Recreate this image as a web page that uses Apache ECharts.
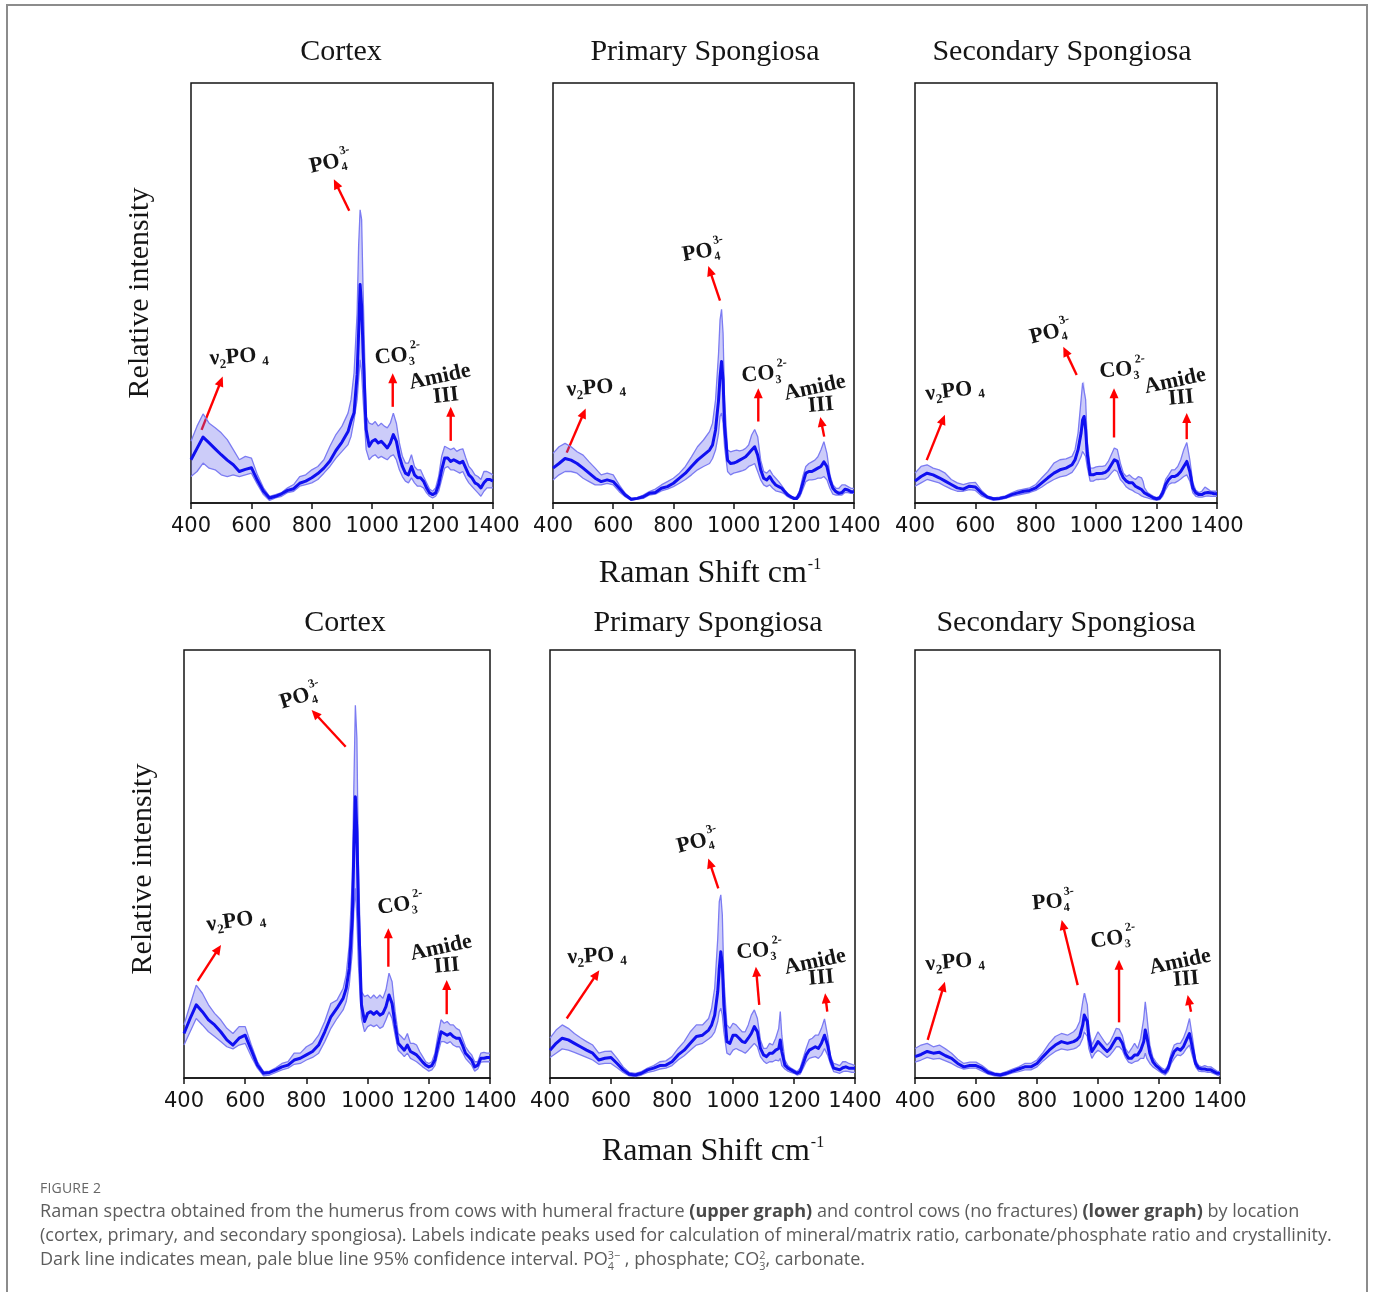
<!DOCTYPE html>
<html>
<head>
<meta charset="utf-8">
<script src="https://cdn.jsdelivr.net/npm/echarts@6/dist/echarts.min.js"></script>
<style>
html,body{margin:0;padding:0;background:#fff;}
#wrap{position:relative;width:1373px;height:1292px;overflow:hidden;background:#fff;}
#chart{position:absolute;left:0;top:0;width:1373px;height:1292px;}
#frame{position:absolute;left:6px;top:4px;width:1362px;height:1310px;border:2px solid #8c8c8c;border-bottom:none;box-sizing:border-box;}
#cap{position:absolute;left:40px;top:1177px;font-family:'Open Sans',sans-serif;color:#5c5c5c;white-space:nowrap;}
#cap .fig{font-size:14px;line-height:21px;color:#666;letter-spacing:0.2px;}
#lines{font-size:16.5px;}
#lines div{line-height:24px;height:24px;}
#lines b{font-weight:700;color:#4a4a4a;}
.ss{display:inline-block;font-size:0.6em;line-height:1.0;vertical-align:-0.45em;text-align:left;}
</style>
</head>
<body>
<div id="wrap">
  <div id="chart"></div>
  <div id="frame"></div>
  <div id="cap">
    <div class="fig">FIGURE 2</div>
    <div id="lines">
      <div><span>Raman spectra obtained from the humerus from cows with humeral fracture <b>(upper graph)</b> and control cows (no fractures) <b>(lower graph)</b> by location</span></div>
      <div><span id="l2">(cortex, primary, and secondary spongiosa). Labels indicate peaks used for calculation of mineral/matrix ratio, carbonate/phosphate ratio and crystallinity.</span></div>
      <div><span>Dark line indicates mean, pale blue line 95% confidence interval. PO<span class="ss">3−<br>4</span> , phosphate; CO<span class="ss">2<br>3</span>, carbonate.</span></div>
    </div>
  </div>
</div>
<script>
// ---------------- DATA ----------------
const X_SHIFT = [400,420,440,460,480,500,520,540,560,580,600,620,640,660,680,700,720,740,760,780,800,820,840,860,880,900,
  920,930,940,950,955,960,965,970,980,990,1000,
  1010,1020,1030,1040,1050,1060,1070,1080,1090,1100,1110,1120,1130,1140,1150,
  1155,
  1160,1170,1180,1190,1200,1210,1220,1230,1240,1250,1260,1270,1280,1290,1300,1310,1320,1330,1340,1350,1360,1370,1380,1390,1400];

const X_TICKS = [400,600,800,1000,1200,1400];

// Upper graph (humeral fracture) - Cortex
const FRACTURE_CORTEX_MEAN = [10.3,13.0,15.7,14.3,12.9,11.5,10.2,9.1,7.5,8.0,8.4,5.4,2.8,1.2,1.6,2.2,3.0,3.4,4.7,5.2,6.0,7.0,8.3,10.0,12.5,14.5,
  17.0,19.5,21.5,30.5,40.5,52.0,46.8,35.7,17.5,13.5,14.7,
  15.1,14.3,14.7,13.9,13.1,14.3,16.3,14.7,11.1,8.7,7.1,6.7,8.7,6.7,6.0,
  6.0,
  6.0,5.2,3.6,2.4,2.0,2.4,4.4,7.9,10.7,10.7,9.9,10.3,9.9,9.5,9.9,8.3,6.7,6.0,4.8,4.4,3.6,4.8,5.6,5.6,5.2];
const FRACTURE_CORTEX_HI = [14.7,18.3,21.2,19.0,17.9,16.7,15.1,12.7,10.3,11.1,10.7,6.7,3.6,1.6,2.0,2.5,3.6,4.4,6.3,6.7,7.9,8.7,10.3,13.5,16.3,18.3,
  21.4,24.6,31.0,45.2,61.1,69.8,67.5,50.0,20.6,19.0,18.7,
  19.4,18.3,19.0,18.3,17.9,19.0,21.4,19.0,14.3,11.1,9.5,9.5,11.5,8.7,7.9,
  7.9,
  7.9,6.3,4.8,3.3,2.8,3.6,6.3,11.1,13.5,13.1,12.7,13.1,12.3,12.7,12.9,10.7,8.7,7.9,6.7,6.3,5.6,7.5,7.5,7.1,6.7];
const FRACTURE_CORTEX_LO = [6.3,7.5,9.5,8.3,7.9,6.7,6.3,6.7,6.3,6.7,7.1,4.4,2.0,0.6,1.2,1.6,2.5,2.8,4.0,4.4,4.8,5.6,7.1,8.7,10.7,12.3,
  13.9,15.9,19.8,24.6,29.4,34.1,31.0,24.6,12.7,10.3,11.1,
  11.5,10.7,11.1,10.7,10.3,11.1,11.5,10.3,7.9,6.3,5.2,4.8,6.0,4.8,4.0,
  4.0,
  4.0,3.6,2.4,1.6,1.2,1.6,2.8,5.6,8.3,8.7,7.9,7.9,7.5,7.1,7.5,6.0,4.8,4.0,3.2,2.4,1.6,2.8,3.6,3.6,3.6];

// Upper graph - Primary Spongiosa
const FRACTURE_PRIMARY_MEAN = [8.3,9.4,10.6,10.2,9.4,8.3,7.1,5.9,5.1,5.5,5.1,3.5,1.9,0.9,1.1,1.5,2.3,2.5,3.5,3.9,4.7,5.9,7.1,8.7,10.2,11.4,
  12.6,13.8,17.4,24.5,30.1,33.7,29.3,18.2,10.2,9.4,9.5,
  9.8,10.2,10.6,11.0,11.8,12.6,13.4,11.4,7.9,5.9,5.5,6.3,5.1,4.3,3.9,
  3.7,
  3.5,2.7,1.9,1.5,1.1,1.1,2.3,4.7,7.1,7.5,7.5,7.9,8.3,8.7,9.8,8.7,5.5,3.5,2.7,2.3,2.5,3.3,3.1,2.7,2.7];
const FRACTURE_PRIMARY_HI = [11.8,13.4,14.2,13.4,12.2,11.4,9.8,8.3,6.7,7.1,6.7,4.3,2.3,1.1,1.3,1.9,2.7,3.3,4.3,5.1,5.9,7.1,8.7,11.0,13.4,15.0,
  17.0,19.0,24.5,35.6,43.6,46.1,40.4,24.5,12.6,12.2,12.4,
  12.6,12.4,12.6,13.0,13.8,16.2,17.5,15.8,10.2,7.5,7.1,7.9,6.7,5.9,5.1,
  4.6,
  4.3,3.1,2.3,1.7,1.3,1.5,3.1,6.3,8.7,9.4,9.8,10.2,11.0,12.6,14.6,11.8,6.7,4.3,3.5,3.5,4.3,4.3,3.9,3.5,3.5];
const FRACTURE_PRIMARY_LO = [5.5,6.7,7.5,7.5,7.1,5.9,5.1,4.3,4.3,4.7,4.3,2.7,1.5,0.6,0.9,1.1,1.9,2.1,2.9,3.3,3.9,4.7,5.6,6.7,7.9,8.7,
  9.4,10.6,12.6,16.6,20.6,21.4,19.0,13.4,7.5,6.7,7.1,
  7.3,7.5,7.7,8.0,8.7,9.0,9.4,7.5,5.5,4.3,3.9,4.3,3.5,2.9,2.7,
  2.6,
  2.5,2.1,1.5,1.1,0.9,0.9,1.5,3.3,5.1,5.5,5.5,5.6,5.9,5.9,6.3,5.5,3.5,2.1,1.9,1.9,1.9,2.5,2.5,2.3,2.3];

// Upper graph - Secondary Spongiosa
const FRACTURE_SECONDARY_MEAN = [5.2,6.3,7.1,6.7,6.0,5.2,4.4,3.6,3.3,4.0,3.8,2.4,1.4,1.0,1.1,1.4,2.0,2.4,2.8,3.0,3.6,4.8,6.0,7.1,7.9,8.3,
  9.1,10.3,12.7,16.7,19.8,20.6,17.5,11.9,6.7,6.7,7.0,
  7.0,7.1,7.3,7.9,9.1,10.3,9.9,7.5,6.0,5.2,4.8,4.8,4.0,3.6,3.2,
  2.8,
  2.4,2.0,1.6,1.2,1.0,1.2,2.4,4.4,5.6,6.3,6.3,6.7,7.5,8.7,9.9,7.5,3.6,2.4,2.0,2.0,2.4,2.5,2.4,2.2,2.2];
const FRACTURE_SECONDARY_HI = [7.1,8.7,9.1,8.3,7.9,7.1,5.6,4.8,4.4,4.8,4.9,3.0,1.7,1.2,1.4,1.7,2.4,3.0,3.3,3.6,4.4,6.0,7.5,9.5,10.3,10.5,
  11.1,12.7,16.7,24.6,28.6,29.0,24.6,15.1,8.3,8.3,8.6,
  8.7,8.7,8.9,9.9,11.5,13.1,12.7,9.5,7.1,6.3,6.7,6.0,5.6,6.3,6.0,
  5.2,
  3.6,2.5,2.0,1.6,1.3,1.6,3.2,5.6,6.7,7.9,7.9,8.7,10.3,12.7,14.4,10.3,4.8,3.0,2.5,2.8,3.8,3.3,2.8,2.8,2.8];
const FRACTURE_SECONDARY_LO = [4.0,4.8,5.6,5.2,4.8,4.0,3.3,2.8,2.8,3.2,3.0,1.7,1.1,0.6,0.8,1.1,1.6,1.9,2.2,2.5,3.0,3.8,4.8,5.6,6.2,6.5,
  7.3,8.3,9.5,11.1,12.3,12.7,11.1,8.7,5.2,5.2,5.6,
  5.6,5.7,5.7,6.2,7.1,7.9,7.5,5.6,4.8,3.8,3.3,3.0,2.5,2.2,1.7,
  1.6,
  1.4,1.2,1.0,0.8,0.6,0.8,1.6,3.2,4.4,4.8,4.8,5.2,5.7,6.3,6.7,5.2,2.4,1.6,1.4,1.4,1.6,1.7,1.6,1.6,1.6];

// Lower graph (control cows) - Cortex
const CONTROL_CORTEX_MEAN = [10.4,13.9,17.1,15.5,13.6,12.4,10.8,8.9,7.7,9.3,10.0,6.5,3.0,1.1,1.3,1.9,2.6,3.0,4.2,4.6,5.4,6.2,7.7,10.8,14.3,16.3,
  18.6,20.9,25.6,37.3,52.9,65.7,57.6,38.9,17.1,13.2,15.1,
  15.5,14.9,15.5,14.7,15.1,16.7,19.4,17.4,12.4,8.1,7.3,6.5,7.7,6.2,5.8,
  5.5,
  5.4,4.6,3.7,3.0,2.6,2.9,4.2,7.7,10.8,10.4,10.0,10.4,9.7,9.3,9.3,7.7,5.8,5.0,4.2,2.6,3.0,4.6,4.6,4.8,4.8];
const CONTROL_CORTEX_HI = [12.4,17.1,21.7,19.8,17.1,15.1,13.6,11.6,10.4,12.0,12.0,7.7,3.8,1.5,1.6,2.4,3.4,3.8,5.8,5.8,7.3,8.1,10.0,13.2,17.4,18.2,
  20.9,24.1,31.1,46.7,67.7,87.1,79.4,50.5,20.2,19.0,19.4,
  18.6,19.4,18.6,19.4,18.6,20.6,24.5,22.5,15.5,10.4,9.7,8.9,10.4,8.1,8.1,
  7.9,
  7.7,6.2,5.0,3.8,3.4,3.8,5.8,10.0,13.6,12.8,13.2,12.4,12.4,11.6,11.2,9.3,7.3,6.2,5.4,3.8,3.8,5.8,6.0,5.8,5.8];
const CONTROL_CORTEX_LO = [7.7,10.8,13.9,12.4,10.8,9.7,8.5,7.3,6.8,7.7,8.1,5.0,2.3,0.5,0.7,1.3,1.9,2.3,3.2,3.4,4.2,4.8,5.8,8.5,11.6,13.9,
  15.9,17.8,21.7,29.5,38.9,44.3,37.3,26.4,13.9,10.8,12.0,
  12.4,12.0,12.4,11.6,12.0,13.6,15.5,13.9,10.0,6.5,5.8,5.0,5.8,4.6,4.2,
  4.0,
  3.8,3.2,2.6,2.1,1.6,1.9,2.9,5.8,8.5,8.5,8.1,8.5,7.7,7.3,7.3,6.0,4.6,3.8,3.0,1.6,2.1,3.7,3.8,3.8,3.8];

// Lower graph - Primary Spongiosa
const CONTROL_PRIMARY_MEAN = [6.5,8.1,9.3,8.9,8.1,7.3,6.5,5.8,4.2,4.6,4.8,3.4,1.9,0.9,0.7,1.1,1.9,2.3,2.9,3.0,3.8,5.4,6.5,8.1,9.7,10.0,
  11.2,12.4,14.7,20.2,25.6,29.5,26.4,17.1,8.5,8.1,10.0,
  10.0,9.3,8.5,8.3,9.3,10.4,12.0,10.8,6.9,5.4,5.0,5.8,5.8,6.5,6.9,
  8.9,
  6.2,3.0,2.3,1.9,1.5,1.1,1.5,3.4,5.4,6.5,6.9,7.3,6.9,8.1,10.0,7.7,4.2,2.3,2.1,1.9,2.4,2.6,2.3,2.3,2.3];
const CONTROL_PRIMARY_HI = [9.3,11.2,12.4,11.6,10.4,9.4,8.5,7.7,5.8,6.2,6.3,4.6,2.6,1.3,1.1,1.5,2.3,2.9,3.8,4.0,5.0,6.9,8.5,10.8,12.4,12.4,
  13.9,16.3,21.0,32.6,41.2,42.8,38.1,23.3,12.4,11.6,12.8,
  12.4,11.6,10.8,10.8,12.4,14.7,15.9,13.9,8.9,6.9,6.9,8.1,7.7,9.3,11.6,
  15.5,
  10.0,4.2,2.9,2.3,1.9,1.5,2.3,4.6,6.9,8.9,9.3,10.0,10.0,11.6,13.8,10.0,5.0,3.4,3.2,2.9,3.8,3.8,3.4,3.2,2.9];
const CONTROL_PRIMARY_LO = [4.8,5.8,6.8,6.5,6.0,5.4,4.8,4.2,3.2,3.4,3.4,2.4,1.3,0.5,0.3,0.7,1.3,1.6,2.1,2.3,2.9,4.2,5.2,6.5,7.7,8.1,
  9.1,9.7,10.8,13.2,15.5,16.3,14.7,10.8,5.8,5.4,6.5,
  6.9,6.5,6.2,5.8,6.5,7.3,8.1,7.3,5.0,4.0,3.4,3.8,3.8,4.2,4.0,
  4.6,
  2.9,2.1,1.6,1.3,1.1,0.7,0.9,2.3,3.8,4.6,4.8,5.0,4.6,5.4,6.9,5.4,3.2,1.5,1.3,1.1,1.5,1.6,1.5,1.3,1.3];

// Lower graph - Secondary Spongiosa
const CONTROL_SECONDARY_MEAN = [5.0,5.5,6.2,5.8,6.0,5.2,4.6,3.4,2.6,2.9,2.9,2.3,1.3,0.9,0.7,1.1,1.6,2.1,2.6,2.6,3.4,5.0,6.5,7.7,8.5,8.1,
  8.5,8.9,9.7,12.4,14.7,15.1,13.2,9.3,6.2,7.3,8.5,
  7.7,6.9,6.2,6.9,8.1,9.3,9.3,8.1,5.8,4.6,4.6,5.4,5.4,6.5,8.5,
  11.2,
  9.7,5.8,3.8,2.9,2.3,1.6,1.3,2.3,4.6,6.2,6.9,6.5,7.3,8.9,10.4,6.9,3.4,2.3,2.1,2.1,1.9,1.9,1.5,1.1,1.1];
const CONTROL_SECONDARY_HI = [6.9,7.7,8.1,7.3,7.7,6.8,5.8,4.4,3.4,3.7,3.7,2.9,1.8,1.2,1.0,1.5,2.1,2.6,3.4,3.4,4.2,6.0,8.1,9.7,10.4,10.0,
  10.8,11.6,13.2,17.8,19.8,19.8,17.1,11.6,7.7,9.3,10.8,
  9.7,8.6,7.7,8.5,10.0,11.6,11.4,9.9,6.9,5.8,6.9,8.1,6.9,9.3,13.9,
  17.8,
  14.7,7.7,4.8,3.7,2.9,2.3,1.9,3.0,5.8,7.7,8.1,8.1,9.3,11.2,13.9,9.3,4.2,2.9,2.6,2.9,2.6,2.6,2.1,1.6,1.5];
const CONTROL_SECONDARY_LO = [3.7,4.2,4.8,4.4,4.6,4.0,3.4,2.6,2.1,2.3,2.3,1.6,0.9,0.5,0.4,0.7,1.2,1.5,1.9,1.9,2.6,4.0,5.2,6.2,6.8,6.5,
  6.8,7.1,7.7,9.3,10.8,11.0,9.7,6.9,4.6,5.8,6.5,
  6.0,5.4,4.8,5.4,6.3,7.3,7.3,6.5,4.8,3.7,3.4,3.8,4.0,4.6,4.6,
  5.8,
  4.6,3.4,2.6,2.1,1.6,1.1,0.7,1.5,3.4,4.6,5.4,5.2,5.8,6.9,7.7,5.0,2.6,1.6,1.5,1.5,1.3,1.3,1.0,0.7,0.5];

const PANEL_TITLES = ['Cortex','Primary Spongiosa','Secondary Spongiosa','Cortex','Primary Spongiosa','Secondary Spongiosa'];

// Peak annotation arrows: [tailX, tailY, headX, headY] in data coords (v2PO4, PO4, CO3, Amide III)
const ARROWS = [
  [[435,17.4,505,30.1],[924,69.6,873,77.1],[1068,22.9,1068,30.9],[1260,14.8,1260,22.9]],
  [[445.5,12.0,508.6,22.5],[954.8,48.2,916,56.4],[1082,19.4,1082,27.3],[1301,15.8,1288,20.5]],
  [[438.7,10.2,499,21],[935.4,30.5,891,37.2],[1059,15.6,1059,27.3],[1299.7,15.2,1299.7,21.4]],
  [[444.8,22.7,521,31.1],[928.4,77.4,817,86],[1067.8,26,1067.8,35],[1258.5,14.9,1258.5,22.9]],
  [[454.8,13.9,561.7,25.2],[951.8,44.3,919,51.3],[1086,17.1,1075,26],[1309,15.5,1302,19.8]],
  [[441.6,8.9,498,22.5],[933.4,21.7,881,36.9],[1069,13,1069,27.6],[1305,15.5,1294,19.4]]
];
// Peak labels: [x, y, rotationDeg] for v2, po4, co3, amide, iii
const PEAK_LABELS = [
  {v2:[559,34.8,4], po4:[862,81,12], co3:[1085,35,6], amide:[1224,30,12], iii:[1244,25.5,6]},
  {v2:[543,27.4,4], po4:[900,59.8,10], co3:[1103,30.7,5], amide:[1270,27.4,12], iii:[1290,23.3,5]},
  {v2:[532,26.7,7], po4:[849,40.5,14], co3:[1087,31.7,5], amide:[1261,29,12], iii:[1281,25,5]},
  {v2:[570,36.7,8], po4:[781,89,17], co3:[1108,40.4,8], amide:[1240,30.4,12], iii:[1259,26.2,5]},
  {v2:[554,28.5,3], po4:[884,55.1,14], co3:[1087,29.7,5], amide:[1269,27.1,12], iii:[1289,23.4,5]},
  {v2:[531,27.1,5], po4:[854,41.1,5], co3:[1051,32.5,8], amide:[1269,27.1,12], iii:[1289,23.1,5]}
];

// ---------------- LAYOUT / STYLE ----------------
const PANELS = [
  {mean:FRACTURE_CORTEX_MEAN, lo:FRACTURE_CORTEX_LO, hi:FRACTURE_CORTEX_HI, grid:{left:191,top:83,width:302,height:420}, title:[341,52]},
  {mean:FRACTURE_PRIMARY_MEAN, lo:FRACTURE_PRIMARY_LO, hi:FRACTURE_PRIMARY_HI, grid:{left:553,top:83,width:301,height:420}, title:[705,52]},
  {mean:FRACTURE_SECONDARY_MEAN, lo:FRACTURE_SECONDARY_LO, hi:FRACTURE_SECONDARY_HI, grid:{left:915,top:83,width:302,height:420}, title:[1062,52]},
  {mean:CONTROL_CORTEX_MEAN, lo:CONTROL_CORTEX_LO, hi:CONTROL_CORTEX_HI, grid:{left:184,top:650,width:306,height:428}, title:[345,623]},
  {mean:CONTROL_PRIMARY_MEAN, lo:CONTROL_PRIMARY_LO, hi:CONTROL_PRIMARY_HI, grid:{left:550,top:650,width:305,height:428}, title:[708,623]},
  {mean:CONTROL_SECONDARY_MEAN, lo:CONTROL_SECONDARY_LO, hi:CONTROL_SECONDARY_HI, grid:{left:915,top:650,width:305,height:428}, title:[1066,623]}
];
PANELS.forEach((p,i)=>{
  ['mean','lo','hi'].forEach(k=>{
    if (p[k].length !== X_SHIFT.length) throw new Error('Panel '+i+' '+k+' length '+p[k].length+' != '+X_SHIFT.length);
  });
});

const SERIF = "'Liberation Serif', serif";
const SANS = "'DejaVu Sans', sans-serif";
const MEAN_COLOR = '#1010f0';
const EDGE_COLOR = '#7c7cf2';
const BAND_COLOR = 'rgba(95,95,235,0.32)';
const ARROW_COLOR = '#ff0000';
const INK = '#151515';

const chart = echarts.init(document.getElementById('chart'), null, {renderer:'canvas', width:1373, height:1292});

const grids = [], xAxes = [], yAxes = [], series = [];
PANELS.forEach((p, i) => {
  grids.push(Object.assign({show:true, borderColor:INK, borderWidth:1.5, backgroundColor:'transparent'}, p.grid));
  xAxes.push({gridIndex:i, type:'value', min:X_TICKS[0], max:X_TICKS[X_TICKS.length-1], interval:X_TICKS[1]-X_TICKS[0],
    axisLine:{show:true, onZero:false, lineStyle:{color:INK, width:1.5}},
    axisTick:{show:true, length:6, lineStyle:{color:INK, width:1.5}},
    axisLabel:{show:true, fontFamily:SANS, fontSize:21, color:INK, margin:13, showMinLabel:true, showMaxLabel:true,
      formatter: v => String(v)},
    splitLine:{show:false}});
  yAxes.push({gridIndex:i, type:'value', min:0, max:100, show:false, splitLine:{show:false}});
  const pts = arr => X_SHIFT.map((x,k)=>[x, arr[k]]);
  const common = {type:'line', xAxisIndex:i, yAxisIndex:i, symbol:'none', showSymbol:false, smooth:false, silent:true, animation:false};
  // confidence band as a filled polygon between lower and upper limits
  series.push({type:'custom', xAxisIndex:i, yAxisIndex:i, silent:true, animation:false, z:1,
    data:[[X_SHIFT[0], p.lo[0]]],
    renderItem:(params, api) => {
      const up = X_SHIFT.map((x,k)=>api.coord([x, p.hi[k]]));
      const dn = X_SHIFT.map((x,k)=>api.coord([x, p.lo[k]])).reverse();
      return {type:'polygon', shape:{points:up.concat(dn)}, style:{fill:BAND_COLOR}};
    }});
  series.push(Object.assign({}, common, {name:'lower'+i, data:pts(p.lo), z:2, lineStyle:{color:EDGE_COLOR, width:1.3}}));
  series.push(Object.assign({}, common, {name:'upper'+i, data:pts(p.hi), z:2, lineStyle:{color:EDGE_COLOR, width:1.3}}));
  series.push(Object.assign({}, common, {name:'mean'+i, data:pts(p.mean), z:3, lineStyle:{color:MEAN_COLOR, width:3, join:'round'}}));
});

chart.setOption({
  backgroundColor:'transparent',
  animation:false,
  grid:grids, xAxis:xAxes, yAxis:yAxes, series:series
});

// ---------------- TEXT & ARROW GRAPHICS ----------------
const mctx = document.createElement('canvas').getContext('2d');
function tw(t, font){ mctx.font = font; return mctx.measureText(t).width; }
function makeGroup(cx, cy, rotDeg, parts, base, family, weight, color){
  let x = 0, lastX = 0; const kids = [];
  parts.forEach(p => {
    const size = Math.round(base*(p.s||1)*10)/10;
    const font = weight+' '+size+'px '+family;
    const w = tw(p.t, font);
    let px;
    if (p.stack) { px = lastX + (p.dx||0)*base; x = Math.max(x, px + w); }
    else { x += (p.gap||0)*base; px = x; lastX = x; x += w; }
    kids.push({type:'text', x:px, y:(p.dy||0)*base, style:{text:p.t, font:font, fill:color, align:'left', verticalAlign:'middle'}});
  });
  kids.forEach(k => { k.x -= x/2; });
  return {type:'group', x:cx, y:cy, rotation:rotDeg*Math.PI/180, children:kids, silent:true};
}
function makeArrow(p1, p2){
  const dx = p2[0]-p1[0], dy = p2[1]-p1[1];
  const len = Math.hypot(dx, dy) || 1;
  const ux = dx/len, uy = dy/len;
  const hl = 10, hw = 4.5;
  const bx = p2[0]-ux*hl, by = p2[1]-uy*hl;
  return [
    {type:'line', silent:true, shape:{x1:p1[0], y1:p1[1], x2:bx+ux*1, y2:by+uy*1}, style:{stroke:ARROW_COLOR, lineWidth:2.4}},
    {type:'polygon', silent:true, shape:{points:[[p2[0],p2[1]],[bx - uy*hw, by + ux*hw],[bx + uy*hw, by - ux*hw]]}, style:{fill:ARROW_COLOR}}
  ];
}
const LABEL_PARTS = {
  v2:[{t:'ν'},{t:'2',s:0.6,dy:0.3},{t:'PO'},{t:'4',s:0.6,dy:0.3,gap:0.25}],
  po4:[{t:'PO'},{t:'4',s:0.55,dy:0.32,gap:0.02},{t:'3-',s:0.55,dy:-0.42,stack:true,dx:0.06}],
  co3:[{t:'CO'},{t:'3',s:0.55,dy:0.32,gap:0.02},{t:'2-',s:0.55,dy:-0.42,stack:true,dx:0.12}],
  amide:[{t:'Amide'}],
  iii:[{t:'III'}]
};
const graphics = [];
PANELS.forEach((p,i) => {
  graphics.push(makeGroup(p.title[0], p.title[1], 0, [{t:PANEL_TITLES[i]}], 30, SERIF, 'normal', INK));
  const L = PEAK_LABELS[i];
  Object.keys(LABEL_PARTS).forEach(k => {
    const pos = chart.convertToPixel({xAxisIndex:i, yAxisIndex:i}, [L[k][0], L[k][1]]);
    graphics.push(makeGroup(pos[0], pos[1], L[k][2], LABEL_PARTS[k], 22, SERIF, 'bold', INK));
  });
  ARROWS[i].forEach(a => {
    const p1 = chart.convertToPixel({xAxisIndex:i, yAxisIndex:i}, [a[0], a[1]]);
    const p2 = chart.convertToPixel({xAxisIndex:i, yAxisIndex:i}, [a[2], a[3]]);
    makeArrow(p1, p2).forEach(g => graphics.push(g));
  });
});
graphics.push(makeGroup(140, 293, 90, [{t:'Relative intensity'}], 30, SERIF, 'normal', INK));
graphics.push(makeGroup(143, 869, 90, [{t:'Relative intensity'}], 30, SERIF, 'normal', INK));
const XNAME = [{t:'Raman Shift cm'},{t:'-1',s:0.5,dy:-0.3,gap:0.03}];
graphics.push(makeGroup(710, 574, 0, XNAME, 32, SERIF, 'normal', INK));
graphics.push(makeGroup(713, 1152, 0, XNAME, 32, SERIF, 'normal', INK));
chart.setOption({graphic:graphics});

// ---------------- CAPTION FIT ----------------
function fitCaption(){
  const lines = document.getElementById('lines');
  const l2 = document.getElementById('l2');
  let fs = 16.5; lines.style.fontSize = fs+'px';
  const w = l2.getBoundingClientRect().width;
  if (w > 0) { fs = fs*1293/w; lines.style.fontSize = fs.toFixed(2)+'px'; }
}
fitCaption();
if (document.fonts && document.fonts.ready) document.fonts.ready.then(fitCaption);
</script>
</body>
</html>
